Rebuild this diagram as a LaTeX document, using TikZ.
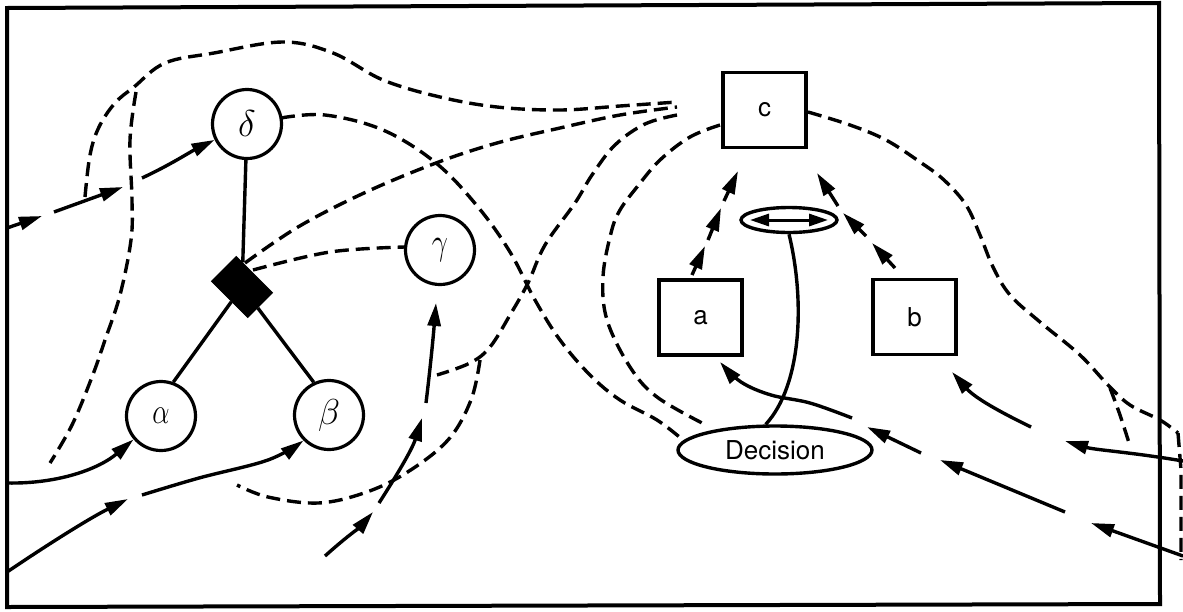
\documentclass[tikz,border=0pt]{standalone}
\usepackage{fontspec}
\setsansfont{TeX Gyre Heros}
\usetikzlibrary{arrows.meta,shapes.geometric}
\begin{document}
\begin{tikzpicture}[x=1pt,y=-1pt,
  ln/.style={line width=3.4pt},
  dsh/.style={line width=3.4pt, dash pattern=on 14pt off 7pt},
  arr/.style={line width=3.4pt, -{Triangle[length=23pt,width=13pt]}},
  gnode/.style={circle, draw, fill=white, line width=3.2pt, minimum size=69pt, inner sep=0pt, font=\Huge},
  sq/.style={rectangle, draw, fill=white, line width=3.4pt, minimum width=83pt, minimum height=75pt, inner sep=0pt, font=\sffamily\fontsize{26}{26}\selectfont},
  ell/.style={ellipse, draw, fill=white, line width=3.4pt, inner sep=0pt}
]
\useasboundingbox (0,0) rectangle (1183,611);
% frame
\draw[line width=4pt] (7,8) -- (1159,3) -- (1160,604) -- (7,607) -- cycle;

% dashed region boundaries
\draw[dsh] plot[smooth, tension=0.6] coordinates {(85,197) (90,155) (99,127) (115,103) (134,87) (165,63) (214,53) (283,42) (333,53) (383,80) (440,97) (497,107) (560,110) (620,106) (677,102)};
\draw[dsh] plot[smooth, tension=0.6] coordinates {(136,92) (130,140) (132,200) (131,240) (120,295) (105,340) (92,377) (72,425) (50,463)};
\draw[dsh] plot[smooth, tension=0.6] coordinates {(281,118) (325,115) (383,130) (436,163) (478,207) (510,252) (535,300) (560,340) (590,375) (620,400) (657,420) (683,440)};
\draw[dsh] plot[smooth, tension=0.6] coordinates {(245,263) (298,227) (364,193) (436,163) (497,143) (560,128) (620,115) (677,107)};
\draw[dsh] plot[smooth, tension=0.6] coordinates {(253,270) (330,252) (405,247)};
\draw[dsh] plot[smooth, tension=0.6] coordinates {(677,115) (645,124) (615,145) (592,175) (575,203) (545,245) (528,283) (510,315) (490,347) (470,363) (437,375)};
\draw[dsh] plot[smooth, tension=0.6] coordinates {(480,360) (471,400) (448,440) (406,473) (364,493) (318,503) (268,497) (237,485)};
\draw[dsh] plot[smooth, tension=0.6] coordinates {(808,112) (850,125) (886,140) (920,162) (944,180) (966,205) (980,235) (993,267) (1010,295) (1040,322) (1080,355) (1108,385) (1130,405) (1160,420) (1178,433)};
\draw[dsh] (1178,433) -- (1181,470) -- (1181,560);
\draw[dsh] plot[smooth, tension=0.6] coordinates {(1110,388) (1120,415) (1130,446)};
\draw[dsh] plot[smooth, tension=0.6] coordinates {(720,125) (690,137) (660,160) (637,187) (620,210) (611,233) (603,277) (607,320) (630,367) (657,397) (706,425)};

% nodes
\node[gnode] (delta) at (247,124) {\scalebox{1.5}{$\delta$}};
\node[gnode] (gamma) at (440,250) {\scalebox{1.15}[1.5]{$\gamma$}};
\node[gnode] (alpha) at (161,416) {\scalebox{1.1}[1.45]{$\alpha$}};
\node[gnode] (beta) at (329,415) {\scalebox{1.45}{$\beta$}};
\node[rectangle, fill=black, draw, line width=1pt, minimum width=51pt, minimum height=35pt, inner sep=0pt, rotate=-45] (dia) at (242,287) {};
\node[sq] (c) at (764.5,110) {c};
\node[sq] (a) at (700.5,317.5) {a};
\node[sq] (b) at (914.5,317) {b};
\node[ell, minimum width=194pt, minimum height=48pt, font=\sffamily\fontsize{26}{26}\selectfont] (dec) at (775,450) {Decision};
\node[ell, minimum width=96pt, minimum height=25pt] (sw) at (789,220) {};

% solid links
\draw[ln] (delta) -- (dia);
\draw[ln] (alpha.70) -- (dia);
\draw[ln] (beta.115) -- (dia);
\draw[ln] (sw.south) .. controls (805,300) and (802,385) .. (dec.110);
\draw[line width=3pt, {Triangle[length=19pt,width=12pt]}-{Triangle[length=19pt,width=12pt]}] (750,220) -- (828,220);

% arrows, left
\draw[arr] (7,228) -- (42,216);
\draw[arr] (54,212) -- (123,187);
\draw[arr] (142,178) .. controls (170,165) and (190,152) .. (delta);
\draw[arr] (7,483) .. controls (60,484) and (100,468) .. (alpha);
\draw[arr] (7,572) .. controls (50,543) and (90,518) .. (128,499);
\draw[arr] plot[smooth, tension=0.6] coordinates {(142,495) (199,478) (268,460) (beta.225)};
\draw[arr] (325,556) .. controls (345,538) and (360,527) .. (373,512);
\draw[arr] (379,503) .. controls (395,478) and (412,450) .. (422,418);
\coordinate (gin) at (436,303);
\draw[arr] (426,403) .. controls (430,370) and (433,340) .. (gin);

% arrows, right
\draw[arr] (1183,461) .. controls (1130,452) and (1095,450) .. (1065,441);
\draw[arr] (1031,427) .. controls (1000,412) and (975,398) .. (952,372);
\draw[arr] (1183,556) -- (1091,523);
\draw[arr] (1065,512) -- (940,460);
\draw[arr] (921,453) -- (867,427);
\draw[arr] plot[smooth, tension=0.6] coordinates {(852,418) (810,403) (771,395) (741,382) (720,362)};

% chains to c
\draw[arr] (692,275) -- (705,246);
\draw[arr] (708,240) -- (721,208);
\draw[arr] (724,201) -- (738,171);
\draw[arr] (895,268) -- (872,243);
\draw[arr] (866,236) -- (843,213);
\draw[arr] (838,206) -- (817,173);
\end{tikzpicture}
\end{document}
